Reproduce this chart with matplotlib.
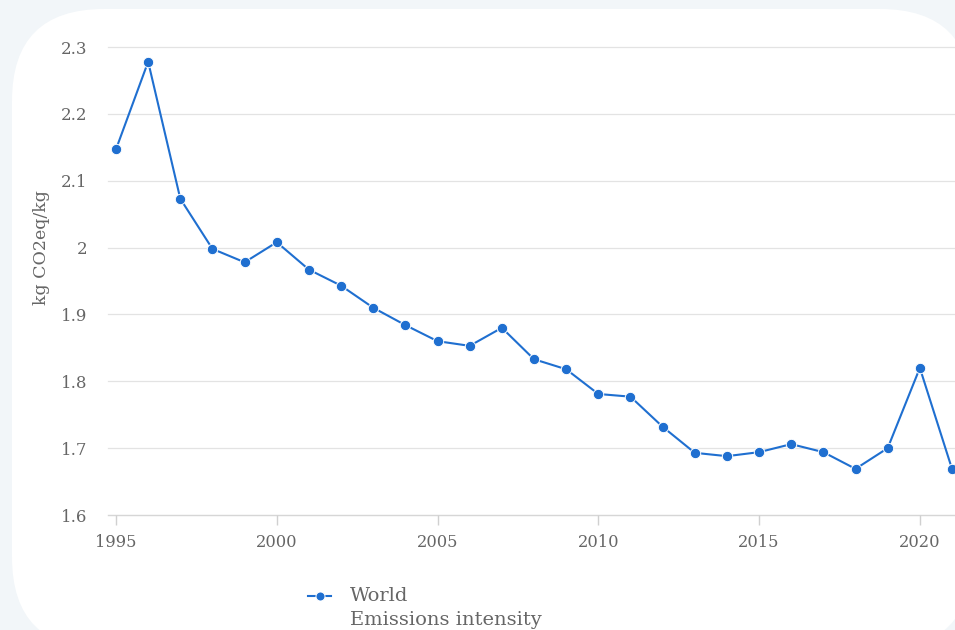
import matplotlib
matplotlib.use("Agg")
import matplotlib.pyplot as plt
from matplotlib.patches import FancyBboxPatch
from matplotlib.lines import Line2D

years = list(range(1995, 2022))
intensity = [2.147, 2.278, 2.073, 1.998, 1.978, 2.008, 1.967, 1.943, 1.910,
             1.884, 1.860, 1.853, 1.880, 1.833, 1.818, 1.781, 1.777, 1.732,
             1.693, 1.688, 1.694, 1.706, 1.694, 1.669, 1.700, 1.820, 1.669]
x_ticks = [1995, 2000, 2005, 2010, 2015, 2020]
y_ticks = [1.6, 1.7, 1.8, 1.9, 2.0, 2.1, 2.2, 2.3]
y_tick_labels = ["1.6", "1.7", "1.8", "1.9", "2", "2.1", "2.2", "2.3"]
series_name = "World"
indicator = "Emissions intensity"
y_label = "kg CO2eq/kg"

W, H = 955, 630
BG = "#f2f6f9"
TXT = "#666666"
LINE = "#1f6fd0"
FONT = "DejaVu Serif"

fig = plt.figure(figsize=(W / 100, H / 100), dpi=100, facecolor=BG)

# background layer in pixel coordinates (origin top-left)
bg = fig.add_axes([0, 0, 1, 1], zorder=0)
bg.set_xlim(0, W)
bg.set_ylim(H, 0)
bg.axis("off")
panel = FancyBboxPatch((12, 9), 960, 640,
                       boxstyle="round,pad=0,rounding_size=92",
                       facecolor="white", edgecolor="none")
bg.add_patch(panel)

# main plot area
left, right, top, bottom = 108, 955, 47, 515
ax = fig.add_axes([left / W, 1 - bottom / H, (right - left) / W, (bottom - top) / H],
                  zorder=1)
ax.patch.set_alpha(0)
px_per_year = (920 - 116) / 25
ax.set_xlim(1995 - (116 - left) / px_per_year, 2021 + (right - 952) / px_per_year)
ax.set_ylim(1.6, 2.3)

for s in ax.spines.values():
    s.set_visible(False)

for y in y_ticks:
    ax.axhline(y, color="#d6d6d6" if y == 1.6 else "#e3e3e3",
               lw=1.0 if y == 1.6 else 0.9, zorder=1, clip_on=False)

ax.plot(years, intensity, color=LINE, lw=1.5, marker="o", markersize=7.5,
        markerfacecolor=LINE, markeredgecolor="white", markeredgewidth=0.7,
        zorder=3, clip_on=False)

ax.set_yticks(y_ticks)
ax.set_yticklabels(y_tick_labels)
ax.set_xticks(x_ticks)
ax.set_xticklabels([str(x) for x in x_ticks])
ax.tick_params(axis="y", length=0, pad=15, labelsize=12, labelcolor=TXT)
ax.tick_params(axis="x", length=7, width=1, color="#d0d0d0", pad=7,
               labelsize=11.7, labelcolor=TXT)
for lab in ax.get_xticklabels() + ax.get_yticklabels():
    lab.set_fontfamily(FONT)

# axis title
bg.text(42, 248, y_label, fontsize=12.5, color=TXT, family=FONT,
        rotation=90, ha="center", va="center")

# legend entry
bg.add_line(Line2D([308, 316], [596, 596], color=LINE, lw=1.5))
bg.add_line(Line2D([323, 331], [596, 596], color=LINE, lw=1.5))
bg.plot([319.5], [596], marker="o", markersize=6.5, color=LINE,
        markeredgecolor="white", markeredgewidth=0.7)
bg.text(350, 596, series_name, fontsize=14, color=TXT, family=FONT,
        va="center", ha="left")
bg.text(350, 620, indicator, fontsize=14, color=TXT, family=FONT,
        va="center", ha="left")

fig.savefig("out.png", dpi=100, facecolor=BG)
